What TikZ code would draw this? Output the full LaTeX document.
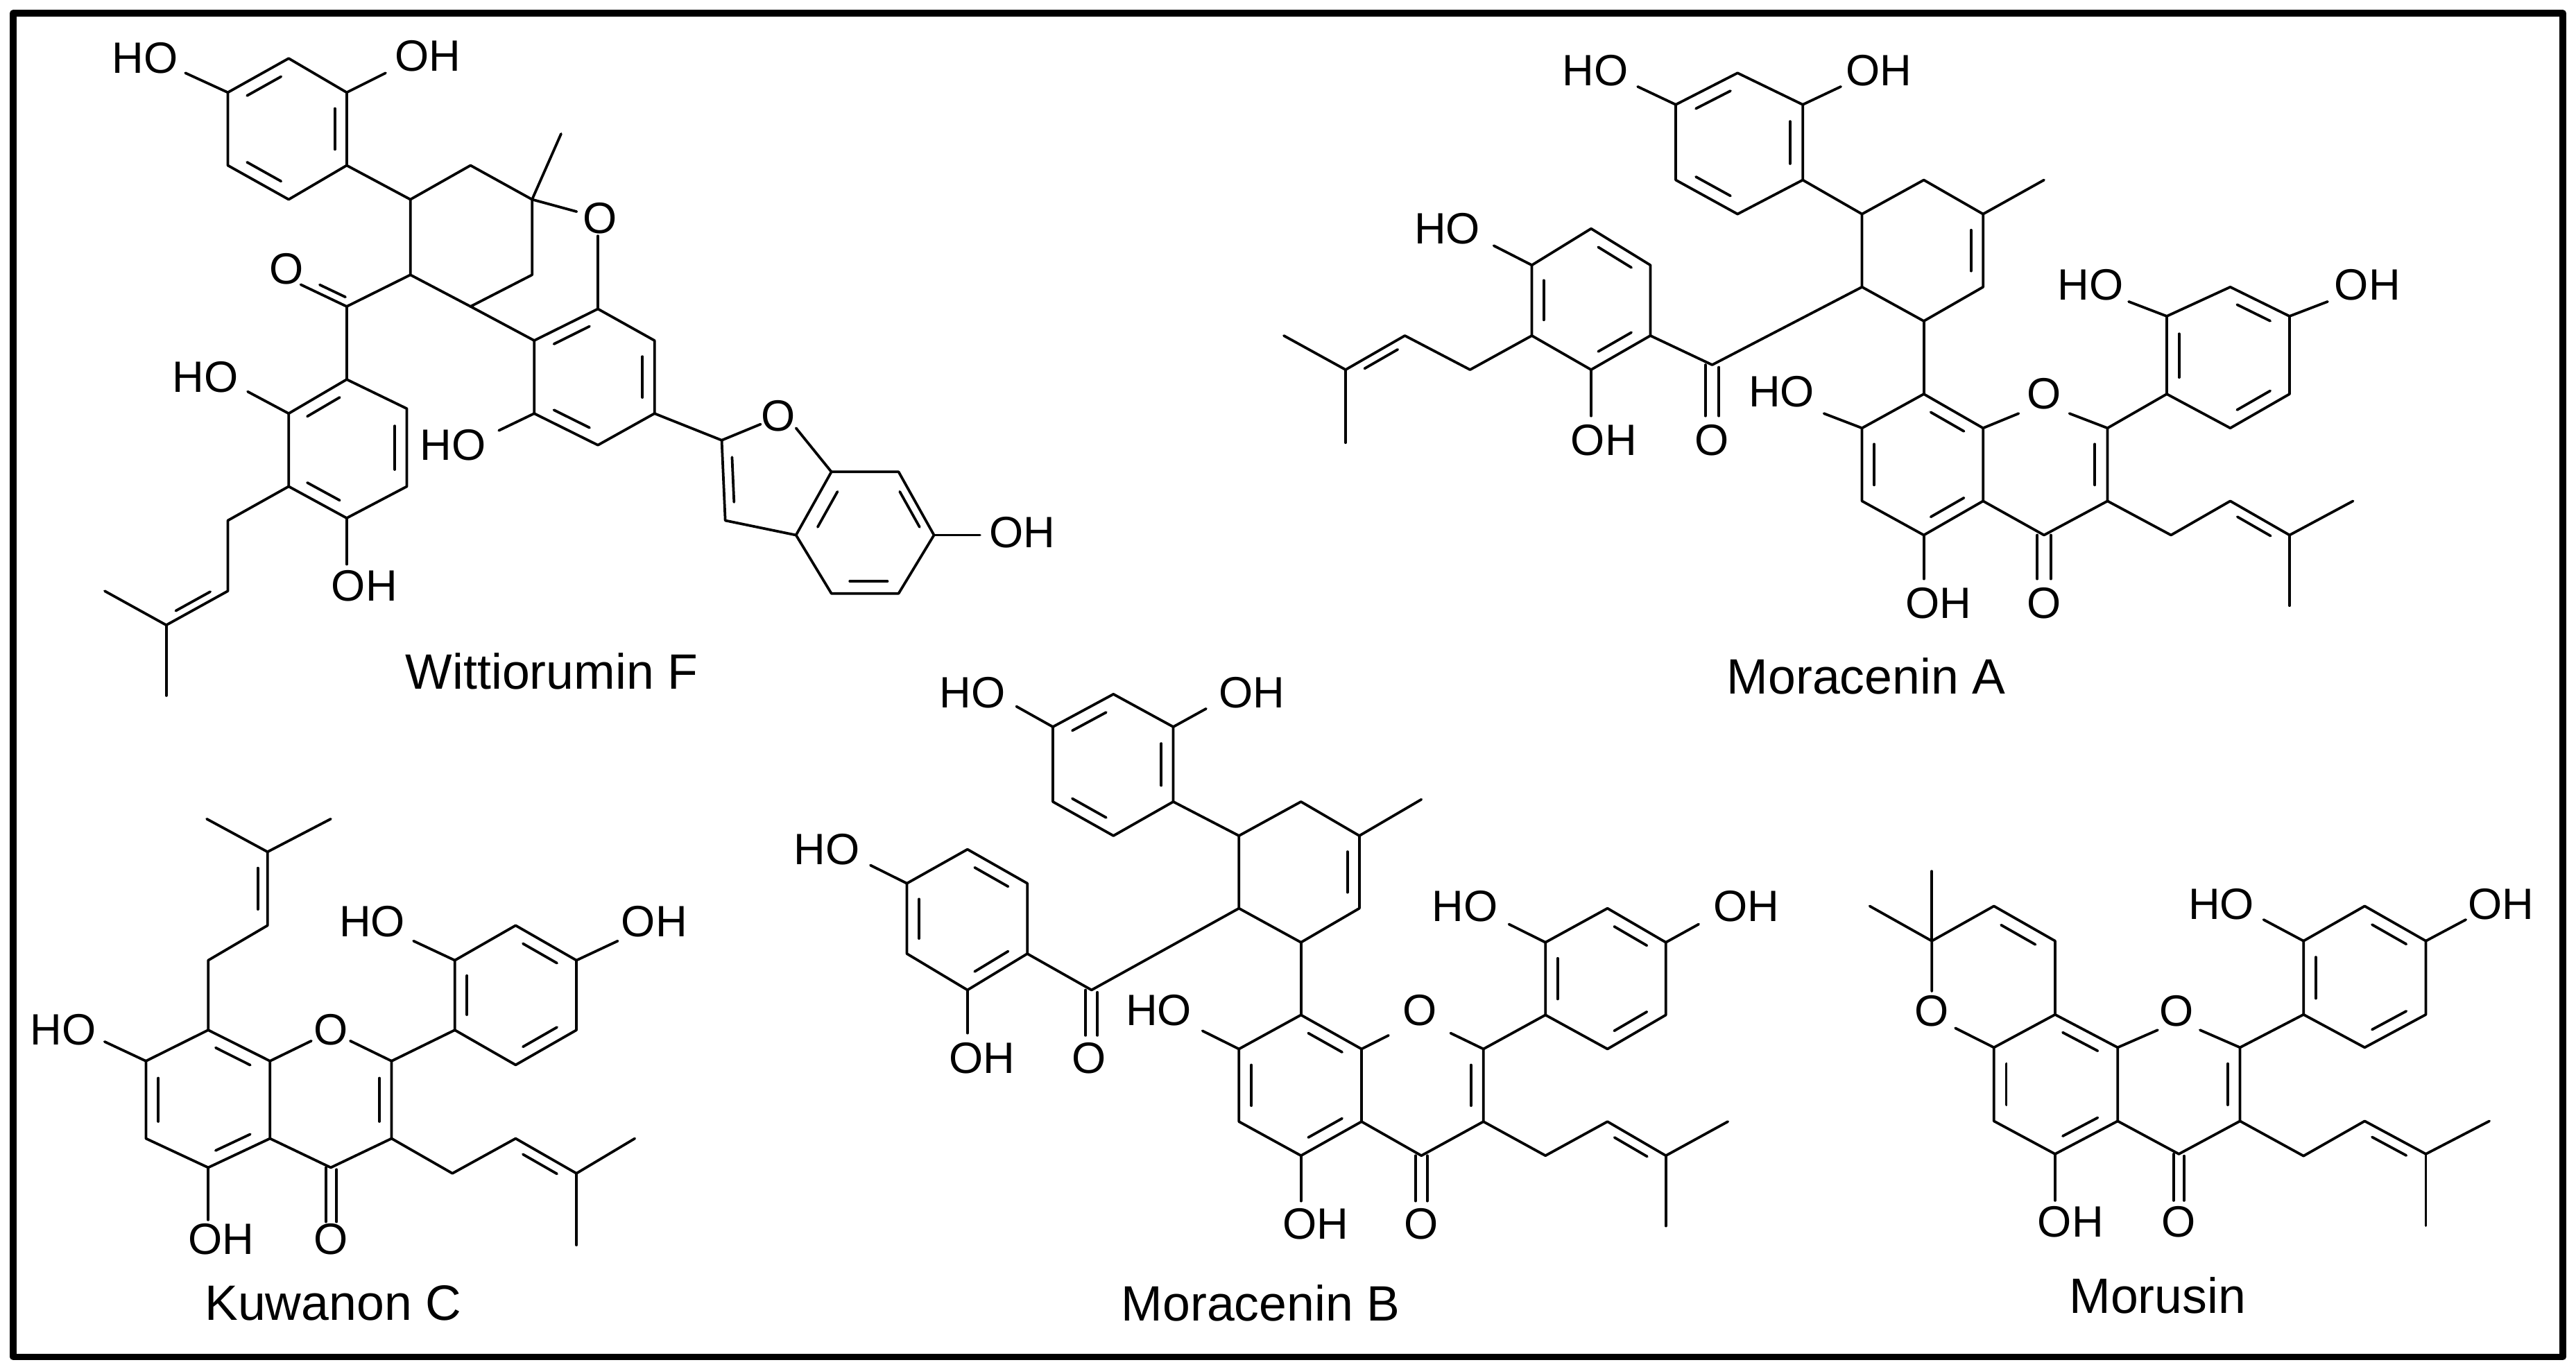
\documentclass[tikz,border=0pt]{standalone}
\usepackage{fontspec}
\setmainfont{Liberation Sans}
\usetikzlibrary{calc}
\tikzset{lab/.style={inner sep=0pt,font=\fontsize{7.6}{8}\selectfont},
 ttl/.style={inner sep=0pt,font=\fontsize{8.6}{10}\selectfont},
 bond/.style={line width=0.45pt}}
\newcommand\db[3]{\draw[bond] ($($(#1)!.15!(#2)$)!.2!(#3)$) -- ($($(#1)!.85!(#2)$)!.2!(#3)$);}
\begin{document}
\begin{tikzpicture}[x=0.1mm,y=-0.1mm,line join=round,line cap=round]
\useasboundingbox (0,0) rectangle (1568,832);
\draw[line width=1.1pt] (8,8) rectangle (1560,826);
% ---------------- Wittiorumin F
\begin{scope}[xscale=0.4307,yscale=0.2961,bond]
\draw (408,120)--(490,190)--(490,340)--(408,410)--(322,340)--(322,190)--cycle;
\db{322,190}{408,120}{406,265}\db{490,190}{490,340}{406,265}\db{408,410}{322,340}{406,265}
\draw (322,190)--(262,150); \node[lab] (w1) at (205,120) {HO};
\draw (490,190)--(545,150); \node[lab] (w2) at (605,115) {OH};
\draw (490,340)--(580,410)--(665,340)--(752,410)--(752,565)--(665,630)--(580,565)--(580,410);
\draw (752,410)--(793,275); \draw (752,410)--(815,435); \node[lab] (w3) at (848,448) {O};
\draw (845,485)--(845,635);
\draw (580,565)--(490,630)--(425,585); \db{490,630}{425,585}{520,560}\node[lab] (w4) at (405,553) {O};
\draw (490,630)--(490,780);
\draw (665,630)--(755,700);
\draw (755,700)--(845,635)--(925,700)--(925,850)--(845,915)--(755,850)--cycle;
\db{755,700}{845,635}{840,775}\db{925,700}{925,850}{840,775}\db{845,915}{755,850}{840,775}
\draw (755,850)--(705,885); \node[lab] (w5) at (640,915) {HO};
\draw (925,850)--(1020,905)--(1075,872); \node[lab] (w6) at (1100,855) {O};
\draw (1125,880)--(1175,970)--(1125,1100)--(1025,1070)--(1020,905);
\db{1025,1070}{1020,905}{1090,980}
\draw (1175,970)--(1270,970)--(1320,1100)--(1270,1220)--(1175,1220)--(1125,1100);
\db{1175,970}{1125,1100}{1248,1095}\db{1270,970}{1320,1100}{1248,1095}\db{1270,1220}{1175,1220}{1248,1095}
\draw (1320,1100)--(1385,1100); \node[lab] (w7) at (1445,1095) {OH};
\draw (490,780)--(575,840)--(575,1000)--(490,1065)--(408,1000)--(408,850)--cycle;
\db{490,780}{408,850}{490,922}\db{575,840}{575,1000}{490,922}\db{490,1065}{408,1000}{490,922}
\draw (408,850)--(350,805); \node[lab] (w8) at (290,775) {HO};
\draw (490,1065)--(490,1160); \node[lab] (w9) at (515,1205) {OH};
\draw (408,1000)--(322,1070)--(322,1215)--(235,1285)--(148,1215); \draw (235,1285)--(235,1430);
\db{322,1215}{235,1285}{250,1180}
\node[ttl] (wt) at (780,1380) {Wittiorumin F};
\end{scope}
% ---------------- Kuwanon C
\begin{scope}[shift={(0,464.3)},xscale=0.2961,yscale=0.2358,bond]
\draw (428,690)--(555,770)--(555,970)--(428,1045)--(300,970)--(300,770)--cycle;
\db{300,770}{300,970}{428,870}\db{428,690}{555,770}{428,870}\db{555,970}{428,1045}{428,870}
\draw (555,770)--(640,718); \node[lab] (k1) at (680,690) {O};
\draw (720,718)--(805,770)--(805,970)--(680,1045)--(555,970);
\db{805,770}{805,970}{680,870}
\draw (670,1045)--(670,1185); \draw (692,1050)--(692,1185); \node[lab] (k2) at (680,1230) {O};
\draw (428,1045)--(428,1180); \node[lab] (k3) at (455,1230) {OH};
\draw (300,770)--(215,720); \node[lab] (k4) at (130,690) {HO};
\draw (428,690)--(428,510)--(550,420)--(550,230)--(425,145); \draw (550,230)--(680,145);
\db{550,420}{550,230}{450,325}
\draw (805,770)--(935,690);
\draw (935,690)--(935,510)--(1060,420)--(1185,510)--(1185,690)--(1060,780)--cycle;
\db{935,690}{935,510}{1060,600}\db{1060,420}{1185,510}{1060,600}\db{1185,690}{1060,780}{1060,600}
\draw (935,510)--(850,460); \node[lab] (k5) at (765,410) {HO};
\draw (1185,510)--(1270,460); \node[lab] (k6) at (1345,410) {OH};
\draw (805,970)--(930,1060)--(1060,970)--(1185,1060)--(1305,970); \draw (1185,1060)--(1185,1245);
\db{1060,970}{1185,1060}{1060,1120}
\node[ttl] (kt) at (685,1395) {Kuwanon C};
\end{scope}
% ---------------- Moracenin A
\begin{scope}[shift={(759.8,0)},xscale=0.5153,yscale=0.2961,bond]
\draw (578,150)--(655,215)--(655,370)--(578,440)--(505,370)--(505,215)--cycle;
\db{505,215}{578,150}{580,295}\db{655,215}{655,370}{580,295}\db{578,440}{505,370}{580,295}
\draw (505,215)--(460,178); \node[lab] (a1) at (410,145) {HO};
\draw (655,215)--(700,178); \node[lab] (a2) at (745,145) {OH};
\draw (655,370)--(725,440)--(798,370)--(868,440)--(868,590)--(798,660)--(725,590)--(725,440);
\draw (868,440)--(940,370); \db{868,440}{868,590}{797,515}
\draw (725,590)--(548,750)--(475,690);
\draw (540,750)--(540,855); \draw (556,755)--(556,855); \node[lab] (a3) at (548,905) {O};
\draw (405,470)--(475,545)--(475,690)--(405,760)--(335,690)--(335,545)--cycle;
\db{405,470}{475,545}{405,615}\db{475,690}{405,760}{405,615}\db{335,690}{335,545}{405,615}
\draw (335,545)--(290,505); \node[lab] (a4) at (235,470) {HO};
\draw (405,760)--(405,855); \node[lab] (a5) at (420,905) {OH};
\draw (335,690)--(262,760)--(185,690)--(115,760)--(42,690); \draw (115,760)--(115,910);
\db{185,690}{115,760}{185,790}
\draw (798,660)--(798,810);
\draw (798,810)--(868,880)--(868,1030)--(798,1100)--(725,1030)--(725,880)--cycle;
\db{725,880}{725,1030}{797,955}\db{798,810}{868,880}{797,955}\db{868,1030}{798,1100}{797,955}
\draw (868,880)--(910,850); \node[lab] (a6) at (940,810) {O};
\draw (970,850)--(1015,880)--(1015,1030)--(940,1100)--(868,1030);
\db{1015,880}{1015,1030}{940,955}
\draw (725,880)--(680,850); \node[lab] (a7) at (630,805) {HO};
\draw (798,1100)--(798,1190); \node[lab] (a8) at (815,1240) {OH};
\draw (932,1100)--(932,1190); \draw (948,1100)--(948,1190); \node[lab] (a9) at (940,1240) {O};
\draw (1015,880)--(1085,810);
\draw (1085,810)--(1085,650)--(1160,590)--(1230,650)--(1230,810)--(1160,880)--cycle;
\db{1085,810}{1085,650}{1158,735}\db{1160,590}{1230,650}{1158,735}\db{1230,810}{1160,880}{1158,735}
\draw (1085,650)--(1040,620); \node[lab] (a10) at (995,585) {HO};
\draw (1230,650)--(1275,620); \node[lab] (a11) at (1322,585) {OH};
\draw (1015,1030)--(1090,1100)--(1160,1030)--(1230,1100)--(1305,1030); \draw (1230,1100)--(1230,1245);
\db{1160,1030}{1230,1100}{1160,1150}
\node[ttl] (at) at (730,1390) {Moracenin A};
\end{scope}
% ---------------- Moracenin B
\begin{scope}[shift={(443.2,401.0)},xscale=0.4442,yscale=0.2762,bond]
\draw (528,78)--(610,150)--(610,315)--(528,390)--(445,315)--(445,150)--cycle;
\db{445,150}{528,78}{528,235}\db{610,150}{610,315}{528,235}\db{528,390}{445,315}{528,235}
\draw (445,150)--(395,105); \node[lab] (b1) at (335,75) {HO};
\draw (610,150)--(655,110); \node[lab] (b2) at (718,75) {OH};
\draw (610,315)--(700,390)--(785,315)--(865,390)--(865,550)--(785,625)--(700,550)--(700,390);
\draw (865,390)--(950,310); \db{865,390}{865,550}{783,470}
\draw (700,550)--(498,730)--(410,650);
\draw (490,730)--(490,830); \draw (506,735)--(506,830); \node[lab] (b3) at (495,880) {O};
\draw (328,420)--(410,495)--(410,650)--(328,730)--(245,650)--(245,495)--cycle;
\db{328,420}{410,495}{328,575}\db{410,650}{328,730}{328,575}\db{245,650}{245,495}{328,575}
\draw (245,495)--(195,455); \node[lab] (b4) at (135,420) {HO};
\draw (328,730)--(328,825); \node[lab] (b5) at (348,880) {OH};
\draw (785,625)--(785,785);
\draw (785,785)--(868,860)--(868,1020)--(785,1095)--(700,1020)--(700,860)--cycle;
\db{700,860}{700,1020}{785,940}\db{785,785}{868,860}{785,940}\db{868,1020}{785,1095}{785,940}
\draw (868,860)--(905,830); \node[lab] (b6) at (948,775) {O};
\draw (990,825)--(1035,860)--(1035,1020)--(950,1095)--(868,1020);
\db{1035,860}{1035,1020}{950,940}
\draw (700,860)--(650,820); \node[lab] (b7) at (590,775) {HO};
\draw (785,1095)--(785,1195); \node[lab] (b8) at (805,1245) {OH};
\draw (942,1095)--(942,1195); \draw (958,1095)--(958,1195); \node[lab] (b9) at (950,1245) {O};
\draw (1035,860)--(1120,785);
\draw (1120,785)--(1120,625)--(1205,550)--(1285,625)--(1285,785)--(1205,860)--cycle;
\db{1120,785}{1120,625}{1203,705}\db{1205,550}{1285,625}{1203,705}\db{1285,785}{1205,860}{1203,705}
\draw (1120,625)--(1070,585); \node[lab] (b10) at (1010,545) {HO};
\draw (1285,625)--(1330,585); \node[lab] (b11) at (1395,545) {OH};
\draw (1035,1020)--(1120,1095)--(1205,1020)--(1285,1095)--(1370,1020); \draw (1285,1095)--(1285,1250);
\db{1205,1020}{1285,1095}{1205,1150}
\node[ttl] (bt) at (730,1420) {Moracenin B};
\end{scope}
% ---------------- Morusin
\begin{scope}[shift={(1118.6,464.3)},xscale=0.2864,yscale=0.2358,bond]
\draw (462,650)--(595,735)--(595,925)--(462,1010)--(332,925)--(332,735)--cycle;
\db{332,735}{332,925}{463,830}\db{462,650}{595,735}{463,830}\db{595,925}{462,1010}{463,830}
\draw (595,735)--(680,690); \node[lab] (m1) at (720,640) {O};
\draw (770,690)--(855,735)--(855,925)--(725,1010)--(595,925);
\db{855,735}{855,925}{725,830}
\draw (462,1010)--(462,1130); \node[lab] (m2) at (495,1185) {OH};
\draw (714,1010)--(714,1130); \draw (736,1015)--(736,1130); \node[lab] (m3) at (725,1185) {O};
\draw (332,735)--(250,685); \node[lab] (m4) at (200,640) {O};
\draw (200,590)--(200,460)--(68,370); \draw (200,460)--(200,280);
\draw (200,460)--(332,370)--(462,460)--(462,650);
\db{332,370}{462,460}{330,560}
\draw (855,735)--(990,650);
\draw (990,650)--(990,460)--(1120,370)--(1250,460)--(1250,650)--(1120,735)--cycle;
\db{990,650}{990,460}{1120,555}\db{1120,370}{1250,460}{1120,555}\db{1250,650}{1120,735}{1120,555}
\draw (990,460)--(905,405); \node[lab] (m5) at (815,365) {HO};
\draw (1250,460)--(1335,405); \node[lab] (m6) at (1410,365) {OH};
\draw (855,925)--(990,1015)--(1120,925)--(1250,1010)--(1385,925); \draw (1250,1010)--(1250,1195);
\db{1120,925}{1250,1010}{1120,1080}
\node[ttl] (mt) at (680,1375) {Morusin};
\end{scope}
\end{tikzpicture}
\end{document}
